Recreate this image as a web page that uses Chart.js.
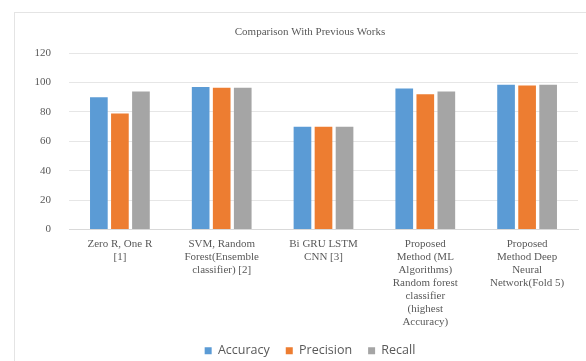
<!DOCTYPE html>
<html>
<head>
<meta charset="utf-8">
<script src="https://cdn.jsdelivr.net/npm/chart.js@4"></script>
<style>
  html, body { margin: 0; padding: 0; overflow: hidden; background: #fff; }
  #frame {
    position: absolute; left: 14px; top: 12px;
    width: 600px; height: 380px;
    border-left: 1px solid #e4e4e4; border-top: 1px solid #e4e4e4;
  }
  #wrap { position: absolute; left: 0; top: 0; width: 590px; height: 354px; }
</style>
</head>
<body>
<div id="frame"><div id="wrap"><canvas id="barChart"></canvas></div></div>
<script>
// categories (x axis)
var categories = [
  ["Zero R, One R", "[1]"],
  ["SVM, Random", "Forest(Ensemble", "classifier) [2]"],
  ["Bi GRU LSTM", "CNN [3]"],
  ["Proposed", "Method (ML", "Algorithms)", "Random forest", "classifier", "(highest", "Accuracy)"],
  ["Proposed", "Method Deep", "Neural", "Network(Fold 5)"]
];

// series
var accuracy = [90, 97, 70, 96, 98.5];
var precision = [79, 96.5, 70, 92, 98];
var recall = [94, 96.5, 70, 94, 98.5];

// y axis ticks
var yMin = 0;
var yMax = 120;
var yStep = 20;

var serif = "'Liberation Serif', 'Times New Roman', serif";
var textGray = "#595959";

// y labels sit in the left padding, so widen their clip box after layout
var unclipY = {
  id: "unclipY",
  afterLayout: function(chart) {
    chart.scales.y.left = 0;
  }
};

var ctxB = document.getElementById("barChart").getContext("2d");
var myBarChart = new Chart(ctxB, {
  type: "bar",
  data: {
    labels: categories,
    datasets: [
      { label: "Accuracy", data: accuracy, backgroundColor: "#5B9BD5" },
      { label: "Precision", data: precision, backgroundColor: "#ED7D31" },
      { label: "Recall", data: recall, backgroundColor: "#A5A5A5" }
    ]
  },
  plugins: [unclipY],
  options: {
    responsive: true,
    maintainAspectRatio: false,
    animation: false,
    categoryPercentage: 0.62,
    barPercentage: 0.84,
    // equal side padding keeps title and legend centred like the original
    layout: { padding: { left: 27, right: 27, top: 0, bottom: 0 } },
    plugins: {
      title: {
        display: true,
        text: "Comparison With Previous Works",
        color: textGray,
        font: { family: serif, size: 11, weight: "normal" },
        padding: { top: 13, bottom: 14 }
      },
      legend: {
        position: "bottom",
        labels: {
          boxWidth: 7,
          boxHeight: 7,
          padding: 16,
          color: textGray,
          font: { family: "'Open Sans', sans-serif", size: 12.5 }
        }
      },
      tooltip: { enabled: false }
    },
    scales: {
      x: {
        grid: { display: false, drawTicks: false },
        border: { display: true, color: "#d9d9d9" },
        ticks: {
          color: textGray,
          padding: 8,
          maxRotation: 0,
          autoSkip: false,
          font: { family: serif, size: 11, lineHeight: 1.18 }
        },
        afterFit: function(scale) {
          scale.height = 99;
        }
      },
      y: {
        min: yMin,
        max: yMax,
        grid: { color: "#e6e6e6", drawTicks: false },
        border: { display: false },
        ticks: {
          stepSize: yStep,
          color: textGray,
          padding: 18,
          font: { family: serif, size: 11 }
        },
        afterFit: function(scale) {
          scale.width = 27;
        }
      }
    }
  }
});
</script>
</body>
</html>
